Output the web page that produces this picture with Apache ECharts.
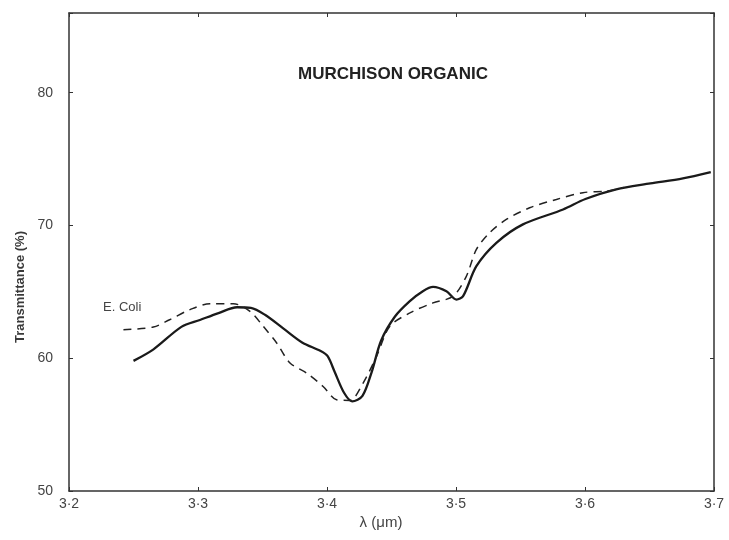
<!DOCTYPE html>
<html>
<head>
<meta charset="utf-8">
<script src="https://cdn.jsdelivr.net/npm/echarts@6/dist/echarts.min.js"></script>
<style>html,body{margin:0;padding:0;background:#fff}#c{width:729px;height:540px}</style>
</head>
<body>
<div id="c"></div>
<script>
// Murchison organic (solid)
var solidX = [3.250,3.2655,3.2871,3.3015,3.3159,3.3303,3.341,3.3519,3.3663,3.3807,3.3951,3.4005,3.4059,3.4131,3.4195,3.4275,3.4347,3.4419,3.4527,3.4642,3.4743,3.4822,3.4926,3.5003,3.5055,3.5158,3.5313,3.5519,3.583,3.6003,3.6242,3.6507,3.6759,3.6975];
var solidY = [59.8,60.67,62.36,62.88,63.4,63.84,63.79,63.27,62.23,61.19,60.54,60.15,58.98,57.42,56.75,57.16,58.98,61.32,63.14,64.3,65.05,65.37,65.04,64.42,64.67,66.93,68.69,70.08,71.2,71.99,72.72,73.16,73.55,74.02];
// E. Coli (dashed)
var dashX = [3.2422,3.2654,3.278,3.2938,3.3093,3.3274,3.3403,3.3506,3.361,3.3713,3.3842,3.397,3.4074,3.4177,3.428,3.4384,3.4487,3.4642,3.4822,3.4977,3.508,3.5158,3.5261,3.539,3.5571,3.5778,3.5984,3.6165,3.63];
var dashY = [62.15,62.35,62.9,63.66,64.11,64.11,63.53,62.4,61.15,59.64,58.88,57.87,56.87,56.82,58.13,60.14,62.4,63.41,64.17,64.66,66.17,68.19,69.45,70.45,71.33,71.96,72.47,72.59,72.85];
var xTicks = [3.2,3.3,3.4,3.5,3.6,3.7];
var yTicks = [50,60,70,80];

function zip(a,b){return a.map(function(v,i){return [v,b[i]];});}

var chart = echarts.init(document.getElementById('c'));
var axisLine = {show:true, lineStyle:{color:'#333', width:1.5}};
var tick = {show:true, inside:true, length:4, lineStyle:{color:'#333'}};
chart.setOption({
  animation:false,
  backgroundColor:'#fff',
  grid:{left:69, right:15, top:13, bottom:49, containLabel:false},
  xAxis:[{
    type:'value', min:3.2, max:3.7, interval:0.1, position:'bottom',
    axisLine:axisLine, axisTick:tick, splitLine:{show:false},
    axisLabel:{color:'#444', fontSize:14, fontFamily:'Liberation Sans', margin:6,
      formatter:function(v){return v.toFixed(1).replace('.', '\u00b7');}}
  },{
    type:'value', min:3.2, max:3.7, interval:0.1, position:'top',
    axisLine:axisLine, axisTick:tick, axisLabel:{show:false}, splitLine:{show:false}
  }],
  yAxis:[{
    type:'value', min:50, max:86, interval:10, position:'left',
    axisLine:axisLine, axisTick:tick, splitLine:{show:false},
    axisLabel:{color:'#444', fontSize:14, fontFamily:'Liberation Sans', margin:16,
      formatter:function(v){return yTicks.indexOf(v)>=0 ? String(v) : '';}}
  },{
    type:'value', min:50, max:86, interval:10, position:'right',
    axisLine:axisLine, axisTick:tick, axisLabel:{show:false}, splitLine:{show:false}
  }],
  graphic:[
    {type:'text', x:393, y:74, style:{text:'MURCHISON ORGANIC', fill:'#222', font:'bold 17px "Liberation Sans"', textAlign:'center', textVerticalAlign:'middle'}},
    {type:'text', x:103, y:307, style:{text:'E. Coli', fill:'#444', font:'13px "Liberation Sans"', textAlign:'left', textVerticalAlign:'middle'}},
    {type:'text', x:381, y:523, style:{text:'\u03bb (\u03bcm)', fill:'#444', font:'15px "Liberation Sans"', textAlign:'center', textVerticalAlign:'middle'}},
    {type:'text', x:20, y:287, rotation:Math.PI/2, style:{text:'Transmittance (%)', fill:'#3a3a3a', font:'bold 13px "Liberation Sans"', textAlign:'center', textVerticalAlign:'middle'}}
  ],
  series:[
    {type:'line', name:'Murchison', data:zip(solidX,solidY), smooth:0.3, showSymbol:false,
     lineStyle:{color:'#1a1a1a', width:2.3}},
    {type:'line', name:'E. Coli', data:zip(dashX,dashY), smooth:0.3, showSymbol:false,
     lineStyle:{color:'#222', width:1.5, type:[8,6]}}
  ]
});
</script>
</body>
</html>
